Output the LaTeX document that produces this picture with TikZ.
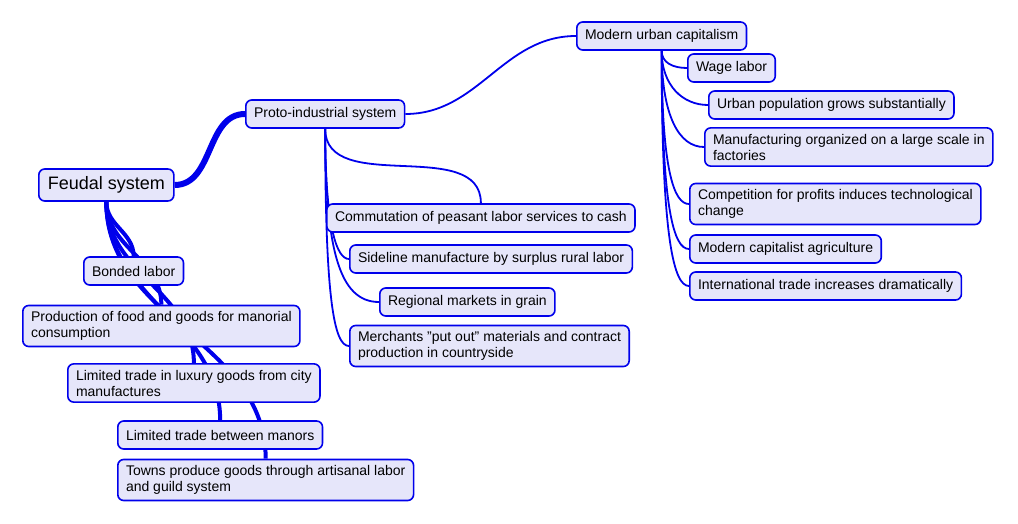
\documentclass[tikz,border=0pt]{standalone}
\usepackage{fontspec}
\setmainfont{Liberation Sans}
\usetikzlibrary{backgrounds}
\definecolor{topicfill}{RGB}{230,230,250}
\definecolor{topicline}{RGB}{0,0,235}
\tikzset{
  topic/.style={draw=topicline, fill=topicfill, line width=1.6pt, rounded corners=6pt,
    anchor=west, align=left, font=\fontsize{14}{16}\selectfont,
    inner xsep=8.2pt, inner ysep=6pt, minimum height=28pt},
  central/.style={topic, font=\fontsize{18}{20}\selectfont, inner xsep=9pt, minimum height=32pt},
  branch/.style={draw=topicline, line width=1.8pt},
  trunk/.style={draw=topicline, line width=4pt},
}
\begin{document}
\begin{tikzpicture}[x=1pt,y=1pt]
  \useasboundingbox (0,0) rectangle (1018,-524);
  \node[central] (feudal) at (38,-185) {Feudal system};
  \node[topic] (proto) at (245,-114) {Proto-industrial system};
  \node[topic] (modern) at (576,-36) {Modern urban capitalism};
  % modern urban capitalism
  \node[topic] (wage) at (687,-68) {Wage labor};
  \node[topic] (popgrow) at (708,-105) {Urban population grows substantially};
  \node[topic] (factories) at (704,-147) {Manufacturing organized on a large scale in\\factories};
  \node[topic] (profits) at (689,-204) {Competition for profits induces technological\\change};
  \node[topic] (agri) at (689,-249) {Modern capitalist agriculture};
  \node[topic] (trade) at (689,-286) {International trade increases dramatically};
  % proto-industrial system
  \node[topic] (commut) at (326,-218) {Commutation of peasant labor services to cash};
  \node[topic] (sideline) at (349,-259) {Sideline manufacture by surplus rural labor};
  \node[topic] (grain) at (379,-302) {Regional markets in grain};
  \node[topic] (putout) at (349,-346) {Merchants "put out" materials and contract\\production in countryside};
  % feudal system
  \node[topic] (bonded) at (83,-271) {Bonded labor};
  \node[topic] (manorial) at (22,-326) {Production of food and goods for manorial\\consumption};
  \node[topic] (luxury) at (67,-383) {Limited trade in luxury goods from city\\manufactures};
  \node[topic] (manors) at (117,-435) {Limited trade between manors};
  \node[topic] (towns) at (117,-480) {Towns produce goods through artisanal labor\\and guild system};
  \begin{scope}[on background layer]
    \draw[trunk, line width=6pt] (feudal.east) to[out=0,in=180] (proto.west);
    \draw[trunk] (feudal.south) to[out=-90,in=90] (bonded.north);
    \draw[trunk] (feudal.south) to[out=-90,in=90] (manorial.north);
    \draw[trunk] (feudal.south) to[out=-90,in=90] (luxury.north);
    \draw[trunk] (feudal.south) to[out=-90,in=90] (manors.north);
    \draw[trunk] (feudal.south) to[out=-90,in=90] (towns.north);
    \draw[branch] (proto.east) to[out=0,in=180] (modern.west);
    \draw[branch] (proto.south) to[out=-90,in=90] (commut.north);
    \draw[branch] (proto.south) to[out=-90,in=180,out distance=100,in distance=12] (sideline.west);
    \draw[branch] (proto.south) to[out=-90,in=180,out distance=120,in distance=40] (grain.west);
    \draw[branch] (proto.south) to[out=-90,in=180,out distance=170,in distance=15] (putout.west);
    \draw[branch] (modern.south) to[out=-90,in=180,out distance=12,in distance=14] (wage.west);
    \draw[branch] (modern.south) to[out=-90,in=180,out distance=35,in distance=25] (popgrow.west);
    \draw[branch] (modern.south) to[out=-90,in=180,out distance=65,in distance=25] (factories.west);
    \draw[branch] (modern.south) to[out=-90,in=180,out distance=120,in distance=15] (profits.west);
    \draw[branch] (modern.south) to[out=-90,in=180,out distance=160,in distance=15] (agri.west);
    \draw[branch] (modern.south) to[out=-90,in=180,out distance=190,in distance=15] (trade.west);
  \end{scope}
\end{tikzpicture}
\end{document}
